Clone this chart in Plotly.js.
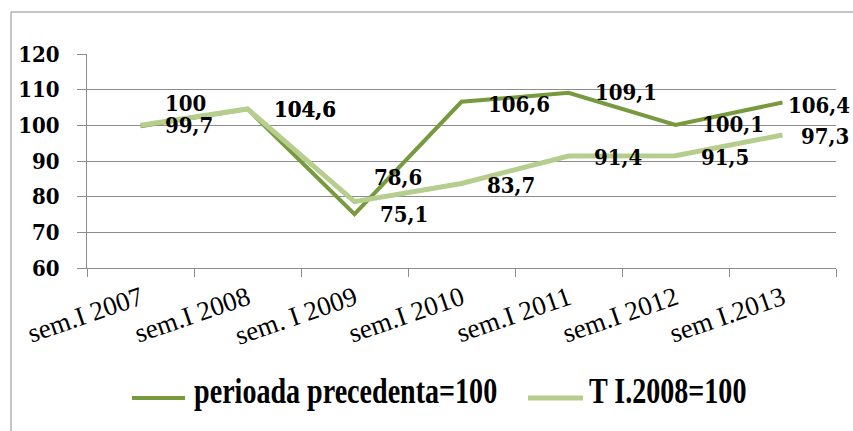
<!DOCTYPE html>
<html>
<head>
<meta charset="utf-8">
<script src="https://cdn.plot.ly/plotly-3.0.1.min.js"></script>
<style>
  html, body { margin: 0; padding: 0; background: #fff; }
  #chart { width: 853px; height: 431px; }
</style>
</head>
<body>
<div id="chart"></div>
<script>
// ---- data ----
const categories = ["sem.I 2007", "sem.I 2008", "sem. I 2009", "sem.I 2010", "sem.I 2011", "sem.I 2012", "sem I.2013"];
const seriesNames = ["perioada precedenta=100", "T I.2008=100"];
const precedenta = [99.7, 104.6, 75.1, 106.6, 109.1, 100.1, 106.4];
const ti2008 = [100, 104.6, 78.6, 83.7, 91.4, 91.5, 97.3];
const yTicks = [60, 70, 80, 90, 100, 110, 120];

// ---- styling ----
const darkGreen = "#789a3e";
const lightGreen = "#b5cd8d";
const grid = "#8c8c8c";
const W = 853, H = 431;
const M = { l: 87, r: 17, t: 54, b: 163 };
const PW = W - M.l - M.r, PH = H - M.t - M.b;
const px = x => (x - M.l) / PW;       // pixel -> paper x
const py = y => (H - M.b - y) / PH;   // pixel -> paper y

// label offsets (pixels) relative to each point: [dx to label left, dy down]
const darkOff = [[22, -1], [24, 1], [23, 0], [24, 3], [24, 0], [24, 0], [3, 2.5]];
const lightOff = [[22, -22], [24, 1], [17, -24.5], [23, 2], [23, 1.5], [23, 2], [16, 1.5]];

const fmt = v => String(v).replace('.', ',');

const traces = [
  { x: categories, y: precedenta, name: seriesNames[0], type: 'scatter', mode: 'lines',
    line: { color: darkGreen, width: 4 }, hoverinfo: 'skip' },
  { x: categories, y: ti2008, name: seriesNames[1], type: 'scatter', mode: 'lines',
    line: { color: lightGreen, width: 5 }, hoverinfo: 'skip' }
];

const labelFont = { family: "DejaVu Serif Condensed", size: 22, color: "#000", weight: "bold" };
const annotations = [];
function addLabels(vals, offs) {
  vals.forEach((v, i) => {
    annotations.push({
      x: categories[i], y: v, xref: 'x', yref: 'y',
      text: fmt(v), showarrow: false,
      xanchor: 'left', yanchor: 'middle',
      xshift: offs[i][0], yshift: -offs[i][1] + 0.5,
      font: labelFont
    });
  });
}
addLabels(precedenta, darkOff);
addLabels(ti2008, lightOff);

// custom legend (text drawn tall and narrow like the reference)
const legendFont = { family: "Liberation Serif", size: 36, color: "#000", weight: "bold" };
const legendSX = 0.78;
annotations.push({ xref: 'paper', yref: 'paper', x: px(192), y: py(391), xanchor: 'left', yanchor: 'middle',
  text: seriesNames[0], showarrow: false, font: legendFont });
annotations.push({ xref: 'paper', yref: 'paper', x: px(587), y: py(391), xanchor: 'left', yanchor: 'middle',
  text: seriesNames[1], showarrow: false, font: legendFont });

const legY = 398;
const shapes = [
  { type: 'line', xref: 'paper', yref: 'paper', x0: px(132), x1: px(185), y0: py(legY), y1: py(legY),
    line: { color: darkGreen, width: 4 } },
  { type: 'line', xref: 'paper', yref: 'paper', x0: px(528), x1: px(583), y0: py(legY), y1: py(legY),
    line: { color: lightGreen, width: 5 } },
  // outer chart border (top and left)
  { type: 'line', xref: 'paper', yref: 'paper', x0: px(11), x1: px(860), y0: py(12), y1: py(12),
    line: { color: grid, width: 1 } },
  { type: 'line', xref: 'paper', yref: 'paper', x0: px(11), x1: px(11), y0: py(12), y1: py(440),
    line: { color: grid, width: 1 } }
];

const layout = {
  width: W, height: H,
  margin: M,
  paper_bgcolor: '#fff', plot_bgcolor: '#fff',
  showlegend: false,
  xaxis: {
    type: 'category', range: [-0.5, categories.length - 0.5],
    showgrid: false, zeroline: false,
    showline: true, linecolor: grid, linewidth: 1,
    ticks: 'outside', tickson: 'boundaries', ticklen: 8, tickcolor: grid, tickwidth: 1,
    tickangle: -19, ticklabelstandoff: 3,
    tickfont: { family: "Liberation Serif", size: 27, color: '#000' }
  },
  yaxis: {
    range: [60, 120], tickvals: yTicks, ticktext: yTicks.map(String),
    showgrid: true, gridcolor: grid, gridwidth: 1, zeroline: false,
    showline: true, linecolor: grid, linewidth: 1,
    ticks: 'outside', ticklen: 9, tickcolor: grid, tickwidth: 1,
    ticklabelstandoff: 13,
    tickfont: { family: "DejaVu Serif Condensed", size: 22, color: '#000', weight: 'bold' }
  },
  annotations: annotations,
  shapes: shapes
};

Plotly.newPlot('chart', traces, layout, { staticPlot: true, displayModeBar: false }).then(() => {
  document.querySelectorAll('#chart text.annotation-text').forEach(t => {
    if (seriesNames.includes(t.textContent)) {
      const bb = t.getBBox();
      const old = t.getAttribute('transform');
      const mine = `translate(${bb.x},0) scale(${legendSX},1) translate(${-bb.x},0)`;
      t.setAttribute('transform', (old ? old + ' ' : '') + mine);
    }
  });
});
</script>
</body>
</html>
